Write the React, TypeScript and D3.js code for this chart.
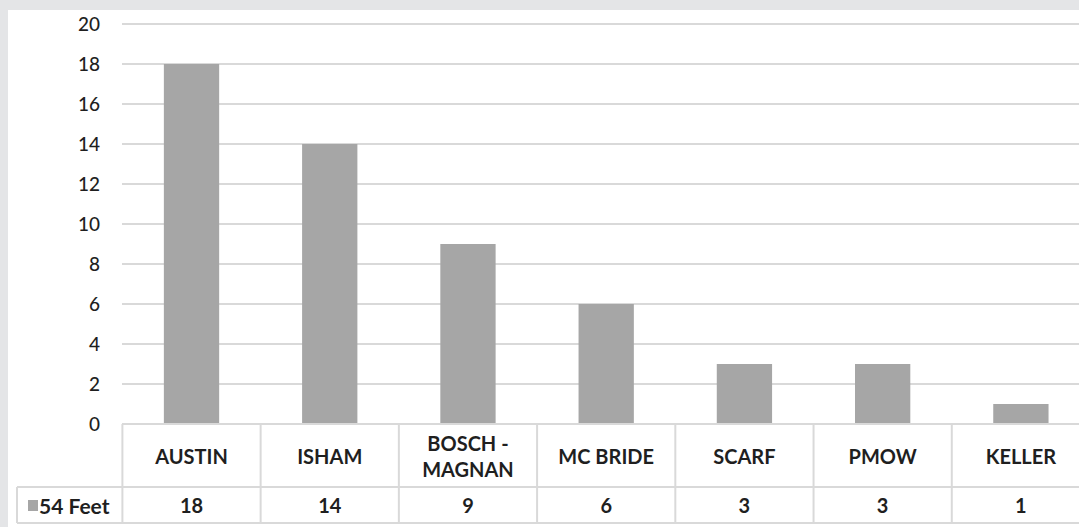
import React from "react";
import * as d3 from "d3";

const categories: string[][] = [["AUSTIN"], ["ISHAM"], ["BOSCH -", "MAGNAN"], ["MC BRIDE"], ["SCARF"], ["PMOW"], ["KELLER"]];
const seriesName = "54 Feet";
const values = [18, 14, 9, 6, 3, 3, 1];
const yTicks = [0, 2, 4, 6, 8, 10, 12, 14, 16, 18, 20];

const W = 1079;
const H = 527;
const FONT = "Lato, 'Open Sans', sans-serif";
const TEXT = "#1f1f1f";
const GRID = "#d9d9d9";
const BAR = "#a6a6a6";

export default function App() {
  const ids = categories.map((c) => c.join(" "));
  const y = d3.scaleLinear().domain([0, 20]).range([424, 24]);
  const x = d3.scaleBand().domain(ids).range([122.4, 1090]).paddingInner(0).paddingOuter(0);
  const bw = x.bandwidth();
  const barW = bw * 0.4;
  const tableTop = y(0);
  const rowSep = 487;
  const tableBottom = 523;
  const legendLeft = 17;

  return (
    <svg width={W} height={H} style={{ position: "absolute", left: 0, top: 0 }} fontFamily={FONT}>
      <rect x={0} y={0} width={W} height={H} fill="#e4e5e7" />
      <rect x={8} y={10} width={W - 8} height={H - 10} fill="#ffffff" />
      {yTicks.map((t) => (
        <g key={t}>
          {t !== 0 && (
            <line x1={122} x2={W} y1={y(t)} y2={y(t)} stroke={GRID} strokeWidth={2} />
          )}
          <text x={100} y={y(t)} dy="0.36em" textAnchor="end" fontSize={19} fontWeight={500} fill={TEXT}>
            {t}
          </text>
        </g>
      ))}
      {values.map((v, i) => (
        <rect
          key={ids[i]}
          x={(x(ids[i]) as number) + (bw - barW) / 2}
          y={y(v)}
          width={barW}
          height={y(0) - y(v)}
          fill={BAR}
        />
      ))}
      {/* table lines */}
      <line x1={122} x2={W} y1={tableTop} y2={tableTop} stroke={GRID} strokeWidth={2} />
      <line x1={legendLeft} x2={W} y1={rowSep} y2={rowSep} stroke={GRID} strokeWidth={2} />
      <line x1={legendLeft} x2={W} y1={tableBottom} y2={tableBottom} stroke={GRID} strokeWidth={2} />
      <line x1={legendLeft} x2={legendLeft} y1={rowSep} y2={tableBottom} stroke={GRID} strokeWidth={2} />
      {ids.map((id) => (
        <line
          key={"v" + id}
          x1={x(id) as number}
          x2={x(id) as number}
          y1={tableTop}
          y2={tableBottom}
          stroke={GRID}
          strokeWidth={2}
        />
      ))}
      {categories.map((lines, i) => {
        const cx = (x(ids[i]) as number) + bw / 2;
        const mid = (tableTop + rowSep) / 2 + 1;
        const lh = 26;
        const start = mid - ((lines.length - 1) * lh) / 2;
        return (
          <text key={"c" + i} textAnchor="middle" fontSize={20} fontWeight="bold" fill={TEXT}>
            {lines.map((l, j) => (
              <tspan key={j} x={cx} y={start + j * lh} dy="0.36em">
                {l}
              </tspan>
            ))}
          </text>
        );
      })}
      {values.map((v, i) => (
        <text
          key={"d" + i}
          x={(x(ids[i]) as number) + bw / 2}
          y={(rowSep + tableBottom) / 2 + 1}
          dy="0.36em"
          textAnchor="middle"
          fontSize={20}
          fontWeight="bold"
          fill={TEXT}
        >
          {v}
        </text>
      ))}
      <rect x={28} y={500} width={10} height={11} fill={BAR} />
      <text x={39} y={(rowSep + tableBottom) / 2 + 1} dy="0.36em" fontSize={21} fontWeight="bold" fill={TEXT}>
        {seriesName}
      </text>
    </svg>
  );
}
